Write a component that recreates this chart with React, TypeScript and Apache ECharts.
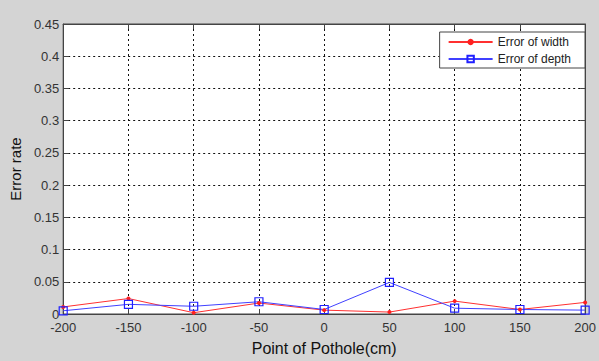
import React, { useEffect, useRef } from "react";
import * as echarts from "echarts";

const xPoints = [-200, -150, -100, -50, 0, 50, 100, 150, 200];
const widthErr = [0.011, 0.024, 0.002, 0.017, 0.006, 0.003, 0.020, 0.007, 0.018];
const depthErr = [0.005, 0.015, 0.012, 0.019, 0.007, 0.049, 0.009, 0.007, 0.006];

const FONT = "Liberation Sans, Arial, sans-serif";

export default function App() {
  const ref = useRef<HTMLDivElement>(null);
  useEffect(() => {
    if (!ref.current) return;
    const chart = echarts.init(ref.current, null, { renderer: "svg" });
    const axisLine = { show: true, onZero: false, lineStyle: { color: "#444", width: 1 } };
    const tick = { show: true, inside: true, length: 5, lineStyle: { color: "#444" } };
    chart.setOption({
      animation: false,
      backgroundColor: "#d4d4d4",
      grid: {
        left: 62,
        right: 13,
        top: 24,
        bottom: 40,
        show: true,
        backgroundColor: "#ffffff",
        borderColor: "#444",
        borderWidth: 1,
      },
      legend: {
        orient: "vertical",
        right: 14,
        top: 32,
        itemWidth: 44,
        itemHeight: 8,
        itemGap: 5,
        padding: [4, 14, 3, 8],
        backgroundColor: "#ffffff",
        borderColor: "#444",
        borderWidth: 1,
        borderRadius: 0,
        textStyle: { fontFamily: FONT, fontSize: 12, color: "#222" },
        data: ["Error of width", "Error of depth"],
      },
      xAxis: [
        {
          type: "value",
          min: -200,
          max: 200,
          interval: 50,
          position: "bottom",
          axisLine,
          axisTick: tick,
          axisLabel: { fontFamily: FONT, fontSize: 13, color: "#333", margin: 7 },
          splitLine: { show: true, lineStyle: { color: "#111", type: [2, 3], width: 1 } },
          name: "Point of Pothole(cm)",
          nameLocation: "middle",
          nameGap: 26,
          nameTextStyle: { fontFamily: FONT, fontSize: 16, color: "#111" },
        },
        {
          type: "value",
          min: -200,
          max: 200,
          interval: 50,
          position: "top",
          axisLine,
          axisTick: tick,
          axisLabel: { show: false },
          splitLine: { show: false },
        },
      ],
      yAxis: [
        {
          type: "value",
          min: 0,
          max: 0.45,
          interval: 0.05,
          position: "left",
          axisLine,
          axisTick: tick,
          axisLabel: { fontFamily: FONT, fontSize: 13, color: "#333", margin: 4 },
          splitLine: { show: true, lineStyle: { color: "#111", type: [2, 3], width: 1 } },
          name: "Error rate",
          nameLocation: "middle",
          nameGap: 38,
          nameTextStyle: { fontFamily: FONT, fontSize: 15, color: "#111" },
        },
        {
          type: "value",
          min: 0,
          max: 0.45,
          interval: 0.05,
          position: "right",
          axisLine,
          axisTick: tick,
          axisLabel: { show: false },
          splitLine: { show: false },
        },
      ],
      series: [
        {
          name: "Error of width",
          type: "line",
          data: xPoints.map((x, i) => [x, widthErr[i]]),
          symbol: "circle",
          symbolSize: 4,
          lineStyle: { color: "#ff3030", width: 1 },
          itemStyle: { color: "#ff2020" },
        },
        {
          name: "Error of depth",
          type: "line",
          data: xPoints.map((x, i) => [x, depthErr[i]]),
          symbol: "rect",
          symbolSize: 8,
          lineStyle: { color: "#4040ff", width: 1 },
          itemStyle: { color: "rgba(255,255,255,0)", borderColor: "#2020ff", borderWidth: 1.2 },
        },
      ],
    });
    return () => chart.dispose();
  }, []);
  return (
    <div
      ref={ref}
      style={{ position: "fixed", left: 0, top: 0, width: 599, height: 361 }}
    />
  );
}
